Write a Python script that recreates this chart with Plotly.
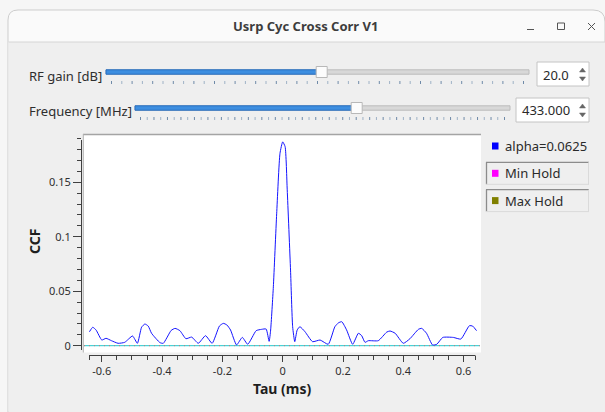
import numpy as np
import plotly.graph_objects as go

# ---------------- data ----------------
tau_ms = [-0.641, -0.630, -0.619, -0.600, -0.586, -0.568, -0.546, -0.524, -0.498, -0.482,
          -0.468, -0.457, -0.446, -0.435, -0.407, -0.396, -0.370, -0.357, -0.341, -0.321,
          -0.302, -0.280, -0.256, -0.234, -0.210, -0.197, -0.185, -0.173, -0.153, -0.134,
          -0.116, -0.088, -0.070, -0.055, -0.045, -0.040, -0.031, -0.020, -0.009, 0.000,
          0.008, 0.015, 0.026, 0.033, 0.040, 0.048, 0.057, 0.074, 0.099, 0.124,
          0.151, 0.173, 0.185, 0.196, 0.212, 0.232, 0.251, 0.262, 0.273, 0.284,
          0.317, 0.345, 0.356, 0.373, 0.400, 0.422, 0.450, 0.461, 0.477, 0.497,
          0.511, 0.531, 0.566, 0.591, 0.619, 0.630, 0.643]
ccf = [0.0128, 0.0169, 0.0144, 0.0052, 0.0068, 0.0046, 0.0022, 0.0031, 0.0089, 0.0022,
       0.0170, 0.0199, 0.0180, 0.0114, 0.0028, 0.0022, 0.0140, 0.0159, 0.0138, 0.0064,
       0.0079, 0.0022, 0.0092, 0.0022, 0.0180, 0.0205, 0.0190, 0.0144, 0.0007, 0.0076,
       0.0013, 0.0138, 0.0150, 0.0153, 0.0040, 0.0144, 0.0540, 0.1210, 0.1765, 0.1870,
       0.1826, 0.1430, 0.0694, 0.0174, 0.0037, 0.0144, 0.0174, 0.0128, 0.0037, 0.0052,
       0.0013, 0.0174, 0.0210, 0.0220, 0.0144, 0.0013, 0.0114, 0.0092, 0.0031, 0.0046,
       0.0046, 0.0125, 0.0135, 0.0114, 0.0022, 0.0064, 0.0150, 0.0159, 0.0114, 0.0007,
       0.0013, 0.0076, 0.0076, 0.0061, 0.0183, 0.0180, 0.0138]

baseline_tau = [-0.659, 0.654]
baseline_ccf = [0.0, 0.0]

x_tick_vals = [-0.6, -0.4, -0.2, 0.0, 0.2, 0.4, 0.6]
x_tick_text = ["-0.6", "-0.4", "-0.2", "0", "0.2", "0.4", "0.6"]
y_tick_vals = [0.0, 0.05, 0.1, 0.15]
y_tick_text = ["0", "0.05", "0.1", "0.15"]

legend_names = ["alpha=0.0625", "Min Hold", "Max Hold"]
legend_colors = ["#0000ff", "#ff00ff", "#808000"]

window_title = "Usrp Cyc Cross Corr V1"
rf_gain_label = "RF gain [dB]"
rf_gain_value = "20.0"
freq_label = "Frequency [MHz]"
freq_value = "433.000"

# ---------------- geometry helpers ----------------
W, H = 605, 412
L, R, T, B = 82, 481, 134, 355
PW, PH = R - L, B - T
X0 = (L - 282.7) / 301.5
X1 = (R - 282.7) / 301.5
Y0 = (345.7 - B) / 1090.0
Y1 = (345.7 - T) / 1090.0


def fx(X):
    return (X - L) / PW


def fy(Y):
    return (B - Y) / PH


def pt(X, Y):
    return f"{fx(X):.5f},{fy(Y):.5f}"


shapes = []


def rect(x0, y0, x1, y1, fill, line=None, lw=1, layer="below"):
    shapes.append(dict(type="rect", xref="paper", yref="paper", x0=fx(x0), x1=fx(x1),
                       y0=fy(y1), y1=fy(y0), fillcolor=fill, layer=layer,
                       line=dict(color=line or fill, width=lw if line else 0)))


def hline(x0, x1, y, color, lw=1, layer="below"):
    shapes.append(dict(type="line", xref="paper", yref="paper", x0=fx(x0), x1=fx(x1),
                       y0=fy(y), y1=fy(y), layer=layer, line=dict(color=color, width=lw)))


def vline(x, y0, y1, color, lw=1, layer="below"):
    shapes.append(dict(type="line", xref="paper", yref="paper", x0=fx(x), x1=fx(x),
                       y0=fy(y0), y1=fy(y1), layer=layer, line=dict(color=color, width=lw)))


def path(d, fill, line, lw=1, layer="below"):
    shapes.append(dict(type="path", xref="paper", yref="paper", path=d, fillcolor=fill,
                       layer=layer, line=dict(color=line, width=lw)))


annotations = []


def text(s, X, Y, size=13, color="#2e2e2e", anchor="left", bold=False, angle=0, font="Noto Sans"):
    annotations.append(dict(text=f"<b>{s}</b>" if bold else s, xref="paper", yref="paper",
                            x=fx(X), y=fy(Y), xanchor=anchor, yanchor="middle", showarrow=False,
                            textangle=angle, font=dict(family=font, size=size, color=color)))


# ---------------- window chrome ----------------
path("M " + pt(8, 412) + " L " + pt(8, 20) + " Q " + pt(8, 10) + " " + pt(18, 10) +
     " L " + pt(593, 10) + " Q " + pt(605, 10) + " " + pt(605, 22) + " L " + pt(605, 412) + " Z",
     "#fafafa", "#cdcdcd")
rect(8.5, 42, 606, 413, "#efefef")
hline(8.5, 606, 42, "#d6d6d6")
text(window_title, 305, 26, size=13, color="#3d3d3d", anchor="center", bold=True)
hline(527, 534, 29.5, "#555555")
rect(557.5, 23, 564.5, 29.5, "rgba(0,0,0,0)", line="#555555")
shapes.append(dict(type="line", xref="paper", yref="paper", x0=fx(588), y0=fy(23), x1=fx(595), y1=fy(30),
                   layer="below", line=dict(color="#555555", width=1)))
shapes.append(dict(type="line", xref="paper", yref="paper", x0=fx(588), y0=fy(30), x1=fx(595), y1=fy(23),
                   layer="below", line=dict(color="#555555", width=1)))


# ---------------- slider widgets ----------------
def slider(y, gx0, gx1, hx, nt, label, value, bx0):
    text(label, 27, y + 3.5, size=13)
    rect(gx0, y - 2.2, gx1, y + 2.2, "#d8d8d8", line="#bcbcbc")
    rect(gx0, y - 2.2, hx, y + 2.2, "#3d8ee0", line="#2a6fc0")
    rect(hx - 5.5, y - 5.5, hx + 5.5, y + 5.5, "#fcfcfc", line="#b8b8b8")
    for k in range(nt + 1):
        tx = gx0 + 5.5 + k * ((gx1 - gx0 - 11) / nt)
        vline(tx, y + 9, y + 12, "#6f8aa8" if k % 2 == 0 else "#9fb2c6")
    rect(bx0, y - 10, 589, y + 14, "#ffffff", line="#c4c4c4")
    text(value, bx0 + 4, y + 2.5, size=13, color="#2a2a2a")
    ax = 582.5
    path("M " + pt(ax - 3, y) + " L " + pt(ax + 3, y) + " L " + pt(ax, y - 4) + " Z", "#666666", "#666666", 0.5)
    path("M " + pt(ax - 3, y + 5) + " L " + pt(ax + 3, y + 5) + " L " + pt(ax, y + 9) + " Z", "#666666", "#666666", 0.5)


slider(72, 106, 529, 321.7, 40, rf_gain_label, rf_gain_value, 537)
slider(108, 135, 510, 356.7, 54, freq_label, freq_value, 516)

# ---------------- plot canvas / axes ----------------
rect(84, 134.5, 481, 352.5, "#ffffff")
hline(83, 481, 134.5, "#a4a4a4", lw=1.5)
vline(83.3, 134, 352.5, "#b4b4b4", lw=1)
vline(81.5, 140, 350, "#404040")
hline(89, 475.5, 355.5, "#404040")

# ---------------- legend ----------------
for i, (name, col) in enumerate(zip(legend_names, legend_colors)):
    cy = 146 + i * 27.3
    if i > 0:
        rect(486, cy - 11, 589, cy + 11, "#efefef")
        hline(486, 589, cy - 11, "#8c8c8c", lw=1.3)
        vline(486.5, cy - 11, cy + 11, "#8c8c8c", lw=1.3)
        hline(486, 589, cy + 11, "#dadada")
        vline(588.5, cy - 11, cy + 11, "#dadada")
    rect(492, cy - 3.5, 498.5, cy + 3.5, col)
    text(name, 503, cy, size=13, color="#2a2a2a")

text("Tau (ms)", 282.7, 388, size=14, color="#1e1e1e", anchor="center", bold=True)
text("CCF", 34, 242, size=14, color="#1e1e1e", anchor="center", bold=True, angle=-90)

# ---------------- traces ----------------
fig = go.Figure()
fig.add_trace(go.Scatter(x=baseline_tau, y=baseline_ccf, mode="lines",
                         line=dict(color="#22c8cc", width=1), hoverinfo="skip", showlegend=False))
fig.add_trace(go.Scatter(x=baseline_tau, y=baseline_ccf, mode="lines",
                         line=dict(color="#e06060", width=0.8, dash="1px,4px"), hoverinfo="skip", showlegend=False))
fig.add_trace(go.Scatter(x=tau_ms, y=ccf, mode="lines",
                         line=dict(color="#1414ff", width=1, shape="spline", smoothing=0.5),
                         showlegend=False))

x_minor = [v for v in np.round(np.arange(-0.6, 0.6001, 0.05), 3) if abs(v * 5 - round(v * 5)) > 1e-6]
x_minor += [-0.64, 0.64]
y_minor = [v for v in np.round(np.arange(0.0, 0.1901, 0.01), 3) if abs(v * 20 - round(v * 20)) > 1e-6]

fig.update_layout(
    width=W, height=H,
    margin=dict(l=L, r=W - R, t=T, b=H - B, pad=0),
    paper_bgcolor="#f6f6f6",
    plot_bgcolor="rgba(0,0,0,0)",
    showlegend=False,
    shapes=shapes,
    annotations=annotations,
    font=dict(family="Noto Sans", color="#303030"),
    xaxis=dict(range=[X0, X1], showgrid=False, zeroline=False, showline=False,
               tickmode="array", tickvals=x_tick_vals, ticktext=x_tick_text,
               ticks="outside", ticklen=6, tickwidth=1, tickcolor="#404040",
               tickfont=dict(family="Noto Sans", size=11, color="#303030"),
               minor=dict(tickmode="array", tickvals=x_minor, ticks="outside", ticklen=4,
                          tickwidth=1, tickcolor="#404040", showgrid=False),
               fixedrange=True),
    yaxis=dict(range=[Y0, Y1], showgrid=False, zeroline=False, showline=False,
               tickmode="array", tickvals=y_tick_vals, ticktext=y_tick_text,
               ticks="outside", ticklen=8, tickwidth=1, tickcolor="#404040",
               tickfont=dict(family="Noto Sans", size=11, color="#303030"),
               minor=dict(tickmode="array", tickvals=y_minor, ticks="outside", ticklen=4,
                          tickwidth=1, tickcolor="#404040", showgrid=False),
               fixedrange=True),
)

fig.write_html("out.html", config={"displayModeBar": False},
               post_script="document.body.style.margin='0px';document.body.style.overflow='hidden';")
